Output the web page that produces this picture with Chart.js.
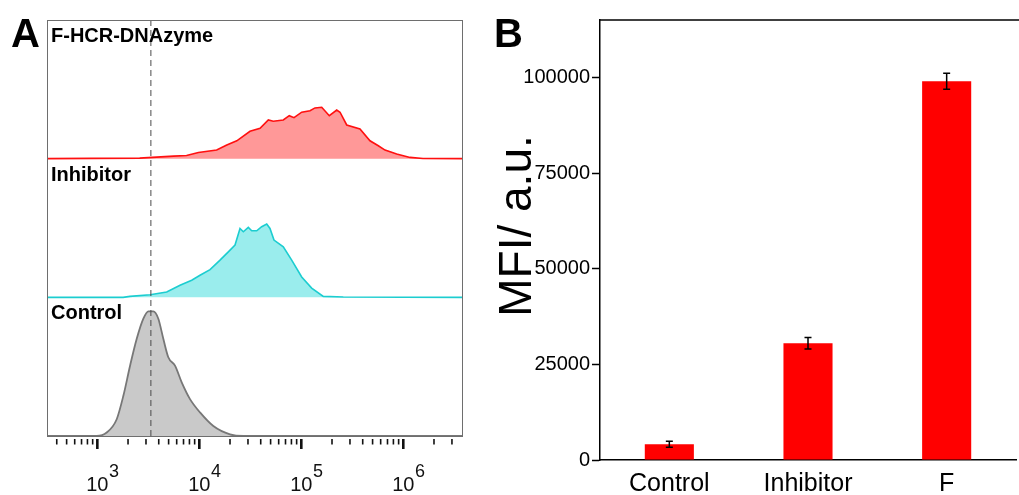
<!DOCTYPE html>
<html><head><meta charset="utf-8">
<script src="https://cdn.jsdelivr.net/npm/chart.js@4.4.0/dist/chart.umd.min.js"></script>
<style>
html,body{margin:0;padding:0;background:#fff;overflow:hidden;width:1019px;height:495px;}
#wa{position:absolute;left:0;top:0;width:480px;height:495px;}
#wb{position:absolute;left:480px;top:0;width:539px;height:495px;}
canvas{display:block;}
</style></head><body>
<div id="wa"><canvas id="ca" width="480" height="495"></canvas></div>
<div id="wb"><canvas id="cb" width="539" height="495"></canvas></div>
<script>
// ---------- Panel A: flow cytometry histograms (x = fluorescence intensity, y = % of mode) ----------
const fhcrX = [321, 2600, 5600, 7500, 9800, 14800, 18600, 23300, 31400, 39400, 47500, 53100, 66600, 76200, 84800, 100900, 121700, 136200, 158500, 188200, 222400, 239700, 278800, 376000, 471600, 569000, 662000, 861000, 1164000, 1560000, 3850000];
const fhcrY = [0, 0.4, 1.8, 2.3, 4.5, 6.2, 9.8, 12.9, 19.7, 21.9, 27.9, 27.0, 27.9, 31.0, 29.6, 33.5, 34.6, 36.6, 37.1, 31.0, 35.1, 33.5, 24.3, 21.4, 12.9, 9.3, 6.2, 3.3, 0.9, 0.1, 0];
const inhX = [321, 1790, 2090, 3290, 4790, 6470, 8420, 10160, 12740, 15960, 19250, 22390, 25060, 27000, 30220, 32640, 36540, 40890, 45800, 49300, 53970, 66600, 80500, 100900, 126400, 164300, 258000, 3850000];
const inhY = [0, 0, 0.7, 1.9, 3.8, 8.7, 12.3, 15.9, 20.0, 26.8, 32.8, 37.7, 49.7, 47.3, 50.4, 48.0, 48.0, 50.9, 52.9, 49.7, 41.3, 36.4, 26.8, 14.7, 6.7, 0.7, 0.2, 0];
const ctrlX = [321, 986, 1236, 1549, 1800, 2094, 2434, 2827, 3164, 3541, 3963, 4436, 4965, 5777, 6719, 8106, 10160, 13720, 19990, 26990, 3850000];
const ctrlY = [0, 0, 2.5, 12.1, 29.0, 50.7, 70.1, 84.6, 89.9, 89.9, 84.6, 70.1, 56.8, 50.7, 38.7, 26.6, 17.0, 7.2, 1.2, 0, 0];
const histLabels = ['F-HCR-DNAzyme', 'Inhibitor', 'Control'];
const gateValue = 3350;
const decadeExps = [3, 4, 5, 6];

// ---------- Panel B: mean fluorescence intensity ----------
const categories = ['Control', 'Inhibitor', 'F'];
const mfi = [4100, 30500, 99000];
const mfiErr = [800, 1500, 2100];
const yTickValues = [0, 25000, 50000, 75000, 100000];

const FONT = "'Liberation Sans', Arial, Helvetica, sans-serif";
Chart.defaults.font.family = FONT;
Chart.defaults.color = '#000';

function toPts(xs, ys, off) { return xs.map((x, i) => ({ x: x, y: off + ys[i] })); }

const xMinA = 321, xMaxA = 3850000;

const panelAPlugin = {
  id: 'panelA',
  afterDraw(chart) {
    const ctx = chart.ctx, a = chart.chartArea, xs = chart.scales.x;
    ctx.save();
    // frame
    ctx.strokeStyle = '#6e6e6e'; ctx.lineWidth = 1;
    ctx.strokeRect(a.left + 0.5, a.top + 0.5, a.right - a.left - 1, a.bottom - a.top);
    // log ticks
    const y0 = a.bottom + 3;
    for (let n = 2; n <= 6; n++) {
      for (let k = 1; k <= 9; k++) {
        const v = k * Math.pow(10, n);
        if (v < xMinA || v > xMaxA) continue;
        const px = xs.getPixelForValue(v);
        const major = k === 1;
        ctx.strokeStyle = '#111'; ctx.lineWidth = major ? 2.6 : 1.6;
        ctx.beginPath(); ctx.moveTo(px, y0); ctx.lineTo(px, y0 + (major ? 10 : 5.5)); ctx.stroke();
      }
    }
    // decade labels
    ctx.fillStyle = '#111';
    decadeExps.forEach(e => {
      const px = xs.getPixelForValue(Math.pow(10, e));
      ctx.font = '20px ' + FONT;
      ctx.textAlign = 'center'; ctx.textBaseline = 'alphabetic';
      ctx.fillText('10', px, 491);
      const w = ctx.measureText('10').width;
      ctx.font = '18px ' + FONT; ctx.textAlign = 'left';
      ctx.fillText(String(e), px + w / 2 + 0.5, 477);
    });
    // histogram labels
    ctx.font = 'bold 20px ' + FONT; ctx.textAlign = 'left'; ctx.fillStyle = '#000';
    const ys = chart.scales.y;
    histLabels.forEach((t, i) => {
      const top = ys.getPixelForValue(300 - 100 * i);
      ctx.fillText(t, a.left + 4, top + 22);
    });
    // panel letter
    ctx.font = 'bold 40px ' + FONT;
    ctx.fillText('A', 11, 47);
    ctx.restore();
  }
};

new Chart(document.getElementById('ca'), {
  type: 'line',
  data: {
    datasets: [
      { data: [{ x: gateValue, y: 0 }, { x: gateValue, y: 300 }], borderColor: '#4a4a4a', borderWidth: 1, borderDash: [6, 4], pointRadius: 0, fill: false },
      { data: toPts(fhcrX, fhcrY, 200), borderColor: '#ff1010', backgroundColor: '#ff9898', borderWidth: 1.6, pointRadius: 0, fill: { value: 200 }, tension: 0 },
      { data: toPts(inhX, inhY, 100), borderColor: '#1ccdd0', backgroundColor: '#9aeded', borderWidth: 1.6, pointRadius: 0, fill: { value: 100 }, tension: 0 },
      { data: toPts(ctrlX, ctrlY, 0), borderColor: '#777', backgroundColor: '#c9c9c9', borderWidth: 1.8, pointRadius: 0, fill: { value: 0 }, tension: 0.4, cubicInterpolationMode: 'monotone' }
    ]
  },
  options: {
    responsive: false, animation: false, devicePixelRatio: 1,
    layout: { padding: { left: 47, top: 20, right: 17, bottom: 59 } },
    plugins: { legend: { display: false }, tooltip: { enabled: false } },
    scales: {
      x: { type: 'logarithmic', min: xMinA, max: xMaxA, display: false },
      y: { type: 'linear', min: 0, max: 300, display: false }
    }
  },
  plugins: [panelAPlugin]
});

const panelBPlugin = {
  id: 'panelB',
  afterDatasetsDraw(chart) {
    const ctx = chart.ctx, ys = chart.scales.y, meta = chart.getDatasetMeta(0);
    ctx.save();
    ctx.strokeStyle = '#000'; ctx.lineWidth = 1.5;
    meta.data.forEach((bar, i) => {
      const x = bar.x, t = ys.getPixelForValue(mfi[i] + mfiErr[i]), b = ys.getPixelForValue(mfi[i] - mfiErr[i]);
      ctx.beginPath();
      ctx.moveTo(x, t); ctx.lineTo(x, b);
      ctx.moveTo(x - 3.5, t); ctx.lineTo(x + 3.5, t);
      ctx.moveTo(x - 3.5, b); ctx.lineTo(x + 3.5, b);
      ctx.stroke();
    });
    ctx.restore();
  },
  afterDraw(chart) {
    const ctx = chart.ctx, a = chart.chartArea;
    ctx.save();
    ctx.strokeStyle = '#000'; ctx.lineWidth = 1.5;
    ctx.beginPath(); ctx.moveTo(a.left - 0.75, a.top); ctx.lineTo(chart.width, a.top); ctx.stroke();
    ctx.fillStyle = '#000';
    ctx.font = 'bold 40px ' + FONT; ctx.textAlign = 'left'; ctx.textBaseline = 'alphabetic';
    ctx.fillText('B', 14, 47);
    ctx.translate(51, 226); ctx.rotate(-Math.PI / 2);
    ctx.font = '46px ' + FONT; ctx.textAlign = 'center';
    ctx.fillText('MFI/ a.u.', 0, 0);
    ctx.restore();
  }
};

new Chart(document.getElementById('cb'), {
  type: 'bar',
  data: {
    labels: categories,
    datasets: [{ data: mfi, backgroundColor: '#ff0000', borderWidth: 0, categoryPercentage: 1, barPercentage: 0.354 }]
  },
  options: {
    responsive: false, animation: false, devicePixelRatio: 1,
    layout: { padding: { left: 0, top: 20, right: 3, bottom: 0 } },
    plugins: { legend: { display: false }, tooltip: { enabled: false } },
    scales: {
      x: {
        grid: { drawOnChartArea: false, drawTicks: false },
        border: { display: true, color: '#000', width: 1.5 },
        ticks: { font: { size: 25 }, color: '#000', padding: 9, maxRotation: 0 },
        afterFit: s => { s.height = 35; }
      },
      y: {
        min: 0, max: 115000,
        afterBuildTicks: s => { s.ticks = yTickValues.map(v => ({ value: v })); },
        grid: { drawOnChartArea: false, drawTicks: true, tickLength: 8, tickColor: '#000', tickWidth: 1.5 },
        border: { display: true, color: '#000', width: 1.5 },
        ticks: { font: { size: 20 }, color: '#000', padding: 2, callback: v => String(v) },
        afterFit: s => { s.width = 120; }
      }
    }
  },
  plugins: [panelBPlugin]
});
</script>
</body></html>
